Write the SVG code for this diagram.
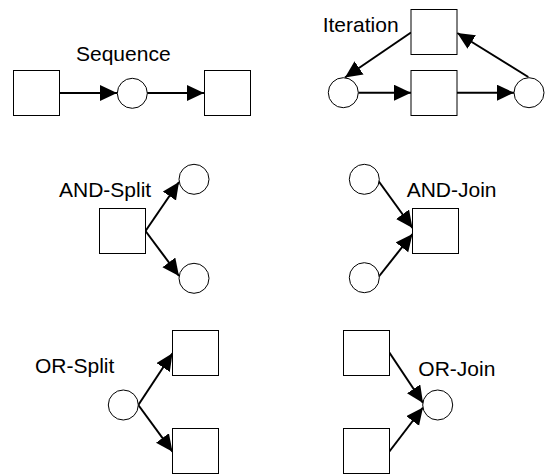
<svg xmlns="http://www.w3.org/2000/svg" width="547" height="474" viewBox="0 0 547 474">
<style>
.sq{fill:#fff;stroke:#000;stroke-width:1}
.pl{fill:#fff;stroke:#000;stroke-width:1}
.ln{fill:none;stroke:#000;stroke-width:2;marker-end:url(#ah)}
.lb{font-family:"Liberation Sans",Arial,sans-serif;font-size:21px;fill:#000}
</style>
<defs>
<marker id="ah" markerUnits="userSpaceOnUse" markerWidth="18" markerHeight="17" refX="17" refY="8" orient="auto">
<path d="M0,0 L17,8 L0,16 z" fill="#000"/>
</marker>
</defs>
<g id="connectors">
<line class="ln" x1="59.5" y1="93" x2="117" y2="93"/>
<line class="ln" x1="147" y1="93" x2="204" y2="93"/>
<line class="ln" x1="358.3" y1="92.7" x2="411" y2="92.7"/>
<line class="ln" x1="457" y1="92.7" x2="514" y2="92.7"/>
<line class="ln" x1="528.3" y1="77" x2="457.3" y2="33"/>
<line class="ln" x1="411" y1="32.5" x2="345" y2="77.5"/>
<line class="ln" x1="145.5" y1="231" x2="179" y2="182"/>
<line class="ln" x1="145.5" y1="231" x2="179" y2="276"/>
<line class="ln" x1="378.5" y1="181" x2="412.5" y2="228"/>
<line class="ln" x1="378.5" y1="277" x2="412.5" y2="234"/>
<line class="ln" x1="138.3" y1="405" x2="172.5" y2="353.3"/>
<line class="ln" x1="138.3" y1="405" x2="172.5" y2="451.7"/>
<line class="ln" x1="389" y1="352" x2="423" y2="403"/>
<line class="ln" x1="389" y1="452" x2="423" y2="407.5"/>
</g>
<g id="seq">
<text class="lb" x="76" y="61">Sequence</text>
<rect id="seq-t1" class="sq" x="13.5" y="70.5" width="46" height="45"/>
<circle id="seq-p1" class="pl" cx="132.3" cy="93.3" r="15"/>
<rect id="seq-t2" class="sq" x="204.5" y="70.5" width="46" height="45"/>
</g>
<g id="iter">
<text class="lb" x="322.7" y="32.3">Iteration</text>
<rect id="iter-t1" class="sq" x="411" y="9.5" width="46" height="45"/>
<rect id="iter-t2" class="sq" x="411" y="70.5" width="46" height="45"/>
<circle id="iter-p1" class="pl" cx="343.3" cy="92.7" r="15"/>
<circle id="iter-p2" class="pl" cx="529" cy="92.7" r="15"/>
</g>
<g id="andsplit">
<text class="lb" x="59" y="196.7">AND-Split</text>
<rect id="as-t" class="sq" x="99.5" y="208.5" width="46" height="45"/>
<circle id="as-p1" class="pl" cx="194" cy="179.3" r="15"/>
<circle id="as-p2" class="pl" cx="194" cy="278.3" r="15"/>
</g>
<g id="andjoin">
<text class="lb" x="406.7" y="196.7">AND-Join</text>
<rect id="aj-t" class="sq" x="412.5" y="208.5" width="46" height="45"/>
<circle id="aj-p1" class="pl" cx="364.3" cy="179.3" r="15"/>
<circle id="aj-p2" class="pl" cx="364.3" cy="277.7" r="15"/>
</g>
<g id="orsplit">
<text class="lb" x="35" y="373.3">OR-Split</text>
<circle id="os-p" class="pl" cx="123.3" cy="405" r="15"/>
<rect id="os-t1" class="sq" x="172.5" y="330.5" width="46" height="45"/>
<rect id="os-t2" class="sq" x="172.5" y="428.5" width="46" height="45"/>
</g>
<g id="orjoin">
<text class="lb" x="418.3" y="376">OR-Join</text>
<rect id="oj-t1" class="sq" x="343.5" y="330.5" width="46" height="45"/>
<rect id="oj-t2" class="sq" x="343.5" y="428.5" width="46" height="45"/>
<circle id="oj-p" class="pl" cx="437.7" cy="405" r="15"/>
</g>
</svg>
